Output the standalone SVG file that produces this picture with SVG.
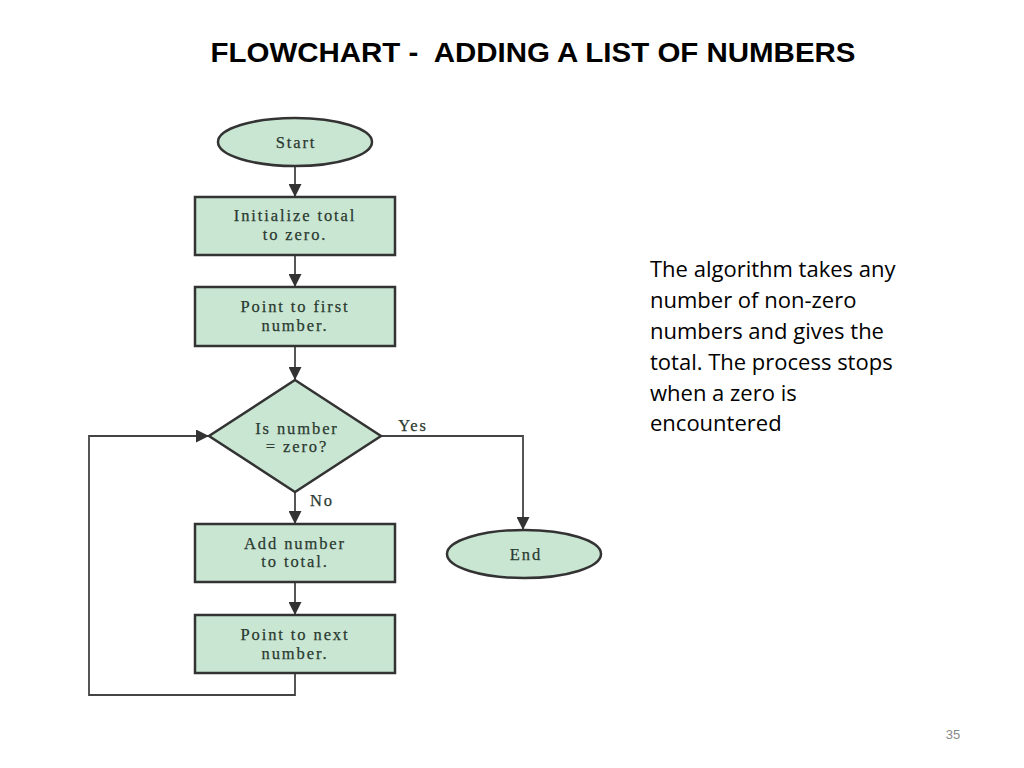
<svg xmlns="http://www.w3.org/2000/svg" width="1024" height="768" viewBox="0 0 1024 768">
<style>
.node{fill:#c9e6d3;stroke:#333;stroke-width:2.5}
.lbl{font-family:"Liberation Serif","Times New Roman",serif;font-size:16.5px;letter-spacing:1.9px;fill:#2b3a30;stroke:#2b3a30;stroke-width:0.25;text-anchor:middle}
.conn{fill:none;stroke:#444;stroke-width:1.8}
.side{font-family:"Open Sans","Liberation Sans",sans-serif;font-size:22px;fill:#000}
</style>
<defs>
<marker id="arrow" viewBox="0 0 12 12" refX="12" refY="6" markerWidth="13" markerHeight="13" orient="auto" markerUnits="userSpaceOnUse">
<path d="M0,0 L12,6 L0,12 z" fill="#333"/>
</marker>
</defs>
<rect width="1024" height="768" fill="#fff"/>
<text x="533" y="62" text-anchor="middle" xml:space="preserve" font-family="'Liberation Sans Narrow','Liberation Sans',sans-serif" font-weight="bold" font-size="28" textLength="645" lengthAdjust="spacingAndGlyphs" style="white-space:pre">FLOWCHART -  ADDING A LIST OF NUMBERS</text>
<g id="connectors">
<path class="conn" d="M295,166 V197" marker-end="url(#arrow)"/>
<path class="conn" d="M295,255 V287" marker-end="url(#arrow)"/>
<path class="conn" d="M295,346 V380" marker-end="url(#arrow)"/>
<path class="conn" d="M295,492 V524" marker-end="url(#arrow)"/>
<path class="conn" d="M295,582 V615" marker-end="url(#arrow)"/>
<path class="conn" d="M381,436 H523 V530" marker-end="url(#arrow)"/>
<path class="conn" d="M295,673 V695 H89 V436 H209" marker-end="url(#arrow)"/>
<text class="lbl" x="413" y="431">Yes</text>
<text class="lbl" x="322" y="506">No</text>
</g>
<g id="start">
<ellipse class="node" cx="295" cy="142" rx="77" ry="24"/>
<text class="lbl" x="296" y="148">Start</text>
</g>
<g id="init">
<rect class="node" x="195" y="197" width="200" height="58"/>
<text class="lbl" x="295" y="221">Initialize total</text>
<text class="lbl" x="295" y="240">to zero.</text>
</g>
<g id="first">
<rect class="node" x="195" y="287" width="200" height="59"/>
<text class="lbl" x="295" y="312">Point to first</text>
<text class="lbl" x="295" y="331">number.</text>
</g>
<g id="decision">
<polygon class="node" points="295,380 381,436 295,492 209,436"/>
<text class="lbl" x="297" y="434">Is number</text>
<text class="lbl" x="297" y="452">= zero?</text>
</g>
<g id="add">
<rect class="node" x="195" y="524" width="200" height="58"/>
<text class="lbl" x="295" y="549">Add number</text>
<text class="lbl" x="295" y="567">to total.</text>
</g>
<g id="next">
<rect class="node" x="195" y="615" width="200" height="58"/>
<text class="lbl" x="295" y="640">Point to next</text>
<text class="lbl" x="295" y="659">number.</text>
</g>
<g id="end">
<ellipse class="node" cx="524" cy="554" rx="77" ry="24"/>
<text class="lbl" x="526" y="560">End</text>
</g>
<g id="note">
<text class="side" x="650" y="277">The algorithm takes any</text>
<text class="side" x="650" y="308">number of non-zero</text>
<text class="side" x="650" y="339">numbers and gives the</text>
<text class="side" x="650" y="370">total. The process stops</text>
<text class="side" x="650" y="401">when a zero is</text>
<text class="side" x="650" y="431">encountered</text>
</g>
<text x="953" y="739" text-anchor="middle" font-family="'Liberation Sans',sans-serif" font-size="13" fill="#888">35</text>
</svg>
